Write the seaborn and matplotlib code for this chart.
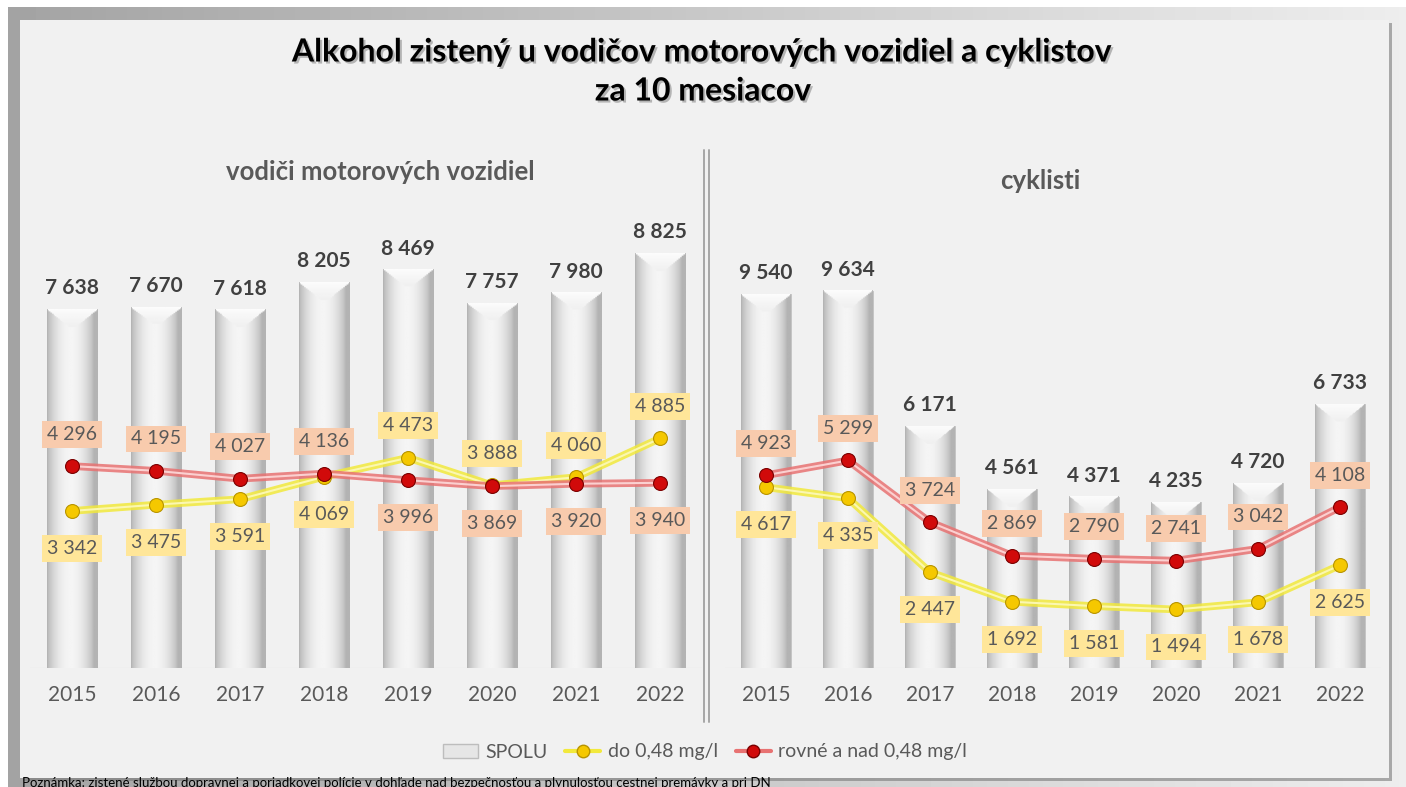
"""Alkohol u vodičov a cyklistov - recreation of the two-panel bar + line chart."""
import numpy as np
import matplotlib
matplotlib.use("Agg")
import matplotlib.pyplot as plt
import matplotlib.patheffects as pe
from matplotlib.patches import Rectangle
from matplotlib.lines import Line2D
import seaborn as sns

sns.set_theme(style="white")
plt.rcParams["font.family"] = ["Lato", "DejaVu Sans"]

# ---- data ----
years = ["2015", "2016", "2017", "2018", "2019", "2020", "2021", "2022"]
drivers_total = [7638, 7670, 7618, 8205, 8469, 7757, 7980, 8825]
drivers_low = [3342, 3475, 3591, 4069, 4473, 3888, 4060, 4885]
drivers_high = [4296, 4195, 4027, 4136, 3996, 3869, 3920, 3940]
cyc_total = [9540, 9634, 6171, 4561, 4371, 4235, 4720, 6733]
cyc_low = [4617, 4335, 2447, 1692, 1581, 1494, 1678, 2625]
cyc_high = [4923, 5299, 3724, 2869, 2790, 2741, 3042, 4108]

TXT = "#595959"
RED, RED_IN, RED_MK, RED_BOX = "#e87272", "#fbd0d0", "#d10a0a", "#f8cbad"
YEL, YEL_IN, YEL_MK, YEL_BOX = "#f2e93c", "#fbf7b0", "#f5c800", "#ffe699"
W, H = 1406, 787


def fmt(v):
    return f"{v:,}".replace(",", " ")


def bar_gradient(ax, patch, cap_units):
    x0, y0 = patch.get_x(), patch.get_y()
    w, h = patch.get_width(), patch.get_height()
    t = np.linspace(0, 1, 60)
    prof = 0.70 + 0.26 * np.sin(np.pi * np.clip(t * 1.08, 0, 1)) ** 0.7
    rows = 300
    img = np.tile(prof, (rows, 1))
    cap_rows = int(rows * min(cap_units / h, 0.3))
    for r in range(cap_rows):
        f = r / max(cap_rows, 1)
        edge = 0.5 * f
        inside = (t > edge * 0.9) & (t < 1 - edge * 0.9)
        img[r, inside] = 0.985 - 0.05 * f
    ax.imshow(img, extent=[x0, x0 + w, y0, y0 + h], origin="upper", aspect="auto",
              cmap="gray", vmin=0, vmax=1, clip_path=patch, zorder=1, interpolation="bilinear")
    patch.set_facecolor("none")
    patch.set_edgecolor("#bdbdbd")
    patch.set_linewidth(0.6)


def draw_panel(ax, total, low, high, ymax, px_per_unit):
    sns.barplot(x=years, y=total, ax=ax, color="#d9d9d9", width=0.6, zorder=1)
    for p in list(ax.patches):
        bar_gradient(ax, p, 18 / px_per_unit)
    for vals, c_out, c_in, c_mk, c_edge in [(low, YEL, YEL_IN, YEL_MK, "#b89400"),
                                            (high, RED, RED_IN, RED_MK, "#7a0000")]:
        sns.pointplot(x=years, y=vals, ax=ax, color=c_in, errorbar=None, markers="none",
                      linewidth=1.5, zorder=3,
                      path_effects=[pe.Stroke(linewidth=5.5, foreground=c_out, alpha=0.85), pe.Normal()])
        sns.pointplot(x=years, y=vals, ax=ax, color=c_mk, errorbar=None, markers="o",
                      linestyles="none", markersize=10, markeredgecolor=c_edge,
                      markeredgewidth=0.8, zorder=4)
    for i in range(len(years)):
        ax.annotate(fmt(total[i]), (i, total[i]), xytext=(0, 8), textcoords="offset points",
                    ha="center", va="bottom", fontsize=15, fontweight="bold", color="#404040")
        hi_up = high[i] >= low[i]
        for v, box, up in [(high[i], RED_BOX, hi_up), (low[i], YEL_BOX, not hi_up)]:
            ax.annotate(fmt(v), (i, v), xytext=(0, 23 if up else -27), textcoords="offset points",
                        ha="center", va="center", fontsize=14, color=TXT, zorder=6,
                        bbox=dict(boxstyle="square,pad=0.25", fc=box, ec="none"))
    ax.set_xlim(-0.5, len(years) - 0.5)
    ax.set_ylim(0, ymax)
    ax.set_facecolor("none")
    sns.despine(ax=ax, left=True, bottom=True)
    ax.set_yticks([])
    ax.set_xlabel("")
    ax.set_ylabel("")
    ax.tick_params(axis="x", length=0, pad=12, labelsize=15, labelcolor=TXT)
    ax.axhline(0, color="#d0d0d0", lw=0.8, zorder=0)


fig = plt.figure(figsize=(W / 100, H / 100), dpi=100)
fig.patch.set_facecolor("white")

# background frame + panel
bg = fig.add_axes([0, 0, 1, 1], zorder=-10)
bg.set_xlim(0, W)
bg.set_ylim(H, 0)
bg.axis("off")
grad = np.tile(np.linspace(0.64, 0.93, 200), (2, 1))
bg.imshow(grad, extent=(8, W, H, 7), cmap="gray", vmin=0, vmax=1, aspect="auto")
bg.add_patch(Rectangle((23, 23), 1369, 758, facecolor="#7a7a7a", edgecolor="none", alpha=0.6))
bg.add_patch(Rectangle((20, 20), 1369, 758, facecolor="#f1f1f1", edgecolor="none"))
bg.plot([704, 704], [150, 722], color="#a6a6a6", lw=1.4)
bg.plot([708.5, 708.5], [150, 722], color="#a6a6a6", lw=1.4)

ax1 = fig.add_axes([30 / W, 119 / H, 672 / W, 470 / H])
ax2 = fig.add_axes([725 / W, 119 / H, 656 / W, 470 / H])
draw_panel(ax1, drivers_total, drivers_low, drivers_high, 10000, 0.047)
draw_panel(ax2, cyc_total, cyc_low, cyc_high, 12000, 0.039)

# titles
shadow = [pe.withSimplePatchShadow(offset=(1.5, -1.5), shadow_rgbFace="#9a9a9a", alpha=0.7)]
fig.text(703 / W, 1 - 52 / H, "Alkohol zistený u vodičov motorových vozidiel a cyklistov",
         ha="center", va="center", fontsize=23, fontweight="bold", color="black", path_effects=shadow)
fig.text(703 / W, 1 - 91 / H, "za 10 mesiacov", ha="center", va="center",
         fontsize=23, fontweight="bold", color="black", path_effects=shadow)
fig.text(380 / W, 1 - 172 / H, "vodiči motorových vozidiel", ha="center", va="center",
         fontsize=18.5, fontweight="bold", color=TXT)
fig.text(1040 / W, 1 - 181 / H, "cyklisti", ha="center", va="center",
         fontsize=18.5, fontweight="bold", color=TXT)

# legend
handles = [
    Rectangle((0, 0), 1, 1, facecolor="#e6e6e6", edgecolor="#bdbdbd"),
    Line2D([0], [0], color=YEL, lw=3, marker="o", markersize=9, markerfacecolor=YEL_MK,
           markeredgecolor="#b89400"),
    Line2D([0], [0], color=RED, lw=3, marker="o", markersize=9, markerfacecolor=RED_MK,
           markeredgecolor="#7a0000"),
]
fig.legend(handles, ["SPOLU", "do 0,48 mg/l", "rovné a nad 0,48 mg/l"], loc="center",
           bbox_to_anchor=(705 / W, 1 - 752 / H), ncol=3, frameon=False, fontsize=14,
           labelcolor=TXT, handlelength=1.8, handletextpad=0.4, columnspacing=0.9)

fig.text(22 / W, 1 - 783 / H,
         "Poznámka: zistené službou dopravnej a poriadkovej polície v dohľade nad bezpečnosťou "
         "a plynulosťou cestnej premávky a pri DN",
         ha="left", va="center", fontsize=9.5, color="black")

fig.savefig("out.png", dpi=100)
